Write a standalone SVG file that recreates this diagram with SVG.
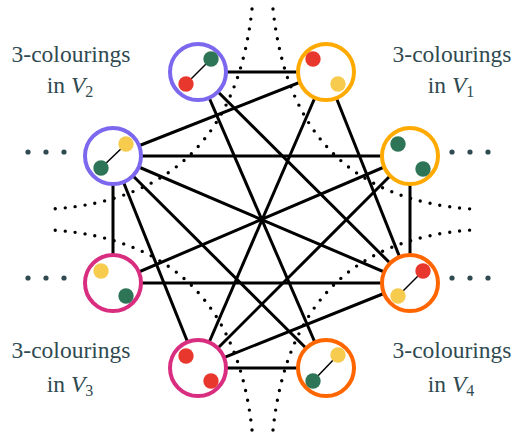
<svg xmlns="http://www.w3.org/2000/svg" width="521" height="432" viewBox="0 0 521 432">
<style>
.edge{stroke:#000;stroke-width:3;fill:none}
.dotted{stroke:#000;stroke-width:3.4;fill:none;stroke-dasharray:0 10;stroke-linecap:round}
.ring{fill:#fff;stroke-width:4}
.link{stroke:#000;stroke-width:1.5}
.lbl{font-family:"Liberation Serif","DejaVu Serif",serif;font-size:23.5px;fill:#2f4a50;text-anchor:middle}
.sub{font-size:16px}
.ell{fill:#2f4a50}
</style>
<rect width="521" height="432" fill="#fff"/>
<g id="dotted-curves">
<path class="dotted" d="M252,9 Q232,197 52,209"/>
<path class="dotted" d="M273,9 Q293,197 472,209"/>
<path class="dotted" d="M252,430 Q232,242 52,230"/>
<path class="dotted" d="M273,430 Q293,242 472,230"/>
</g>
<g id="connectors">
<line class="edge" x1="198" y1="72" x2="326" y2="72"/>
<line class="edge" x1="198" y1="72" x2="410" y2="283"/>
<line class="edge" x1="198" y1="72" x2="326" y2="368"/>
<line class="edge" x1="326" y1="72" x2="113" y2="156"/>
<line class="edge" x1="326" y1="72" x2="198" y2="368"/>
<line class="edge" x1="326" y1="72" x2="410" y2="283"/>
<line class="edge" x1="113" y1="156" x2="410" y2="156"/>
<line class="edge" x1="113" y1="156" x2="113" y2="283"/>
<line class="edge" x1="113" y1="156" x2="410" y2="283"/>
<line class="edge" x1="113" y1="156" x2="198" y2="368"/>
<line class="edge" x1="113" y1="156" x2="326" y2="368"/>
<line class="edge" x1="410" y1="156" x2="113" y2="283"/>
<line class="edge" x1="410" y1="156" x2="410" y2="283"/>
<line class="edge" x1="410" y1="156" x2="198" y2="368"/>
<line class="edge" x1="113" y1="283" x2="410" y2="283"/>
<line class="edge" x1="410" y1="283" x2="198" y2="368"/>
<line class="edge" x1="198" y1="368" x2="326" y2="368"/>
</g>
<g id="nodeA">
<circle class="ring" cx="198" cy="72" r="28" stroke="#7b68ee"/>
<line class="link" x1="211" y1="59" x2="186" y2="84"/>
<circle cx="211" cy="59" r="7.7" fill="#2e7456"/>
<circle cx="186" cy="84" r="7.7" fill="#e8382e"/>
</g>
<g id="nodeB">
<circle class="ring" cx="326" cy="72" r="28" stroke="#ffaa00"/>
<circle cx="313" cy="59" r="7.7" fill="#e8382e"/>
<circle cx="338" cy="84" r="7.7" fill="#f7cb4d"/>
</g>
<g id="nodeC">
<circle class="ring" cx="113" cy="156" r="28" stroke="#7b68ee"/>
<line class="link" x1="126" y1="144" x2="101" y2="168"/>
<circle cx="126" cy="144" r="7.7" fill="#f7cb4d"/>
<circle cx="101" cy="168" r="7.7" fill="#2e7456"/>
</g>
<g id="nodeD">
<circle class="ring" cx="410" cy="156" r="28" stroke="#ffaa00"/>
<circle cx="398" cy="144" r="7.7" fill="#2e7456"/>
<circle cx="423" cy="169" r="7.7" fill="#2e7456"/>
</g>
<g id="nodeE">
<circle class="ring" cx="113" cy="283" r="28" stroke="#d92d80"/>
<circle cx="101" cy="271" r="7.7" fill="#f7cb4d"/>
<circle cx="126" cy="296" r="7.7" fill="#2e7456"/>
</g>
<g id="nodeF">
<circle class="ring" cx="410" cy="283" r="28" stroke="#ff6600"/>
<line class="link" x1="423" y1="271" x2="398" y2="296"/>
<circle cx="423" cy="271" r="7.7" fill="#e8382e"/>
<circle cx="398" cy="296" r="7.7" fill="#f7cb4d"/>
</g>
<g id="nodeG">
<circle class="ring" cx="198" cy="368" r="28" stroke="#d92d80"/>
<circle cx="186" cy="356" r="7.7" fill="#e8382e"/>
<circle cx="211" cy="381" r="7.7" fill="#e8382e"/>
</g>
<g id="nodeH">
<circle class="ring" cx="326" cy="368" r="28" stroke="#ff6600"/>
<line class="link" x1="338" y1="355" x2="313" y2="381"/>
<circle cx="338" cy="355" r="7.7" fill="#f7cb4d"/>
<circle cx="313" cy="381" r="7.7" fill="#2e7456"/>
</g>
<g id="ellipses">
<circle class="ell" cx="28" cy="152" r="2.6"/><circle class="ell" cx="46" cy="152" r="2.6"/><circle class="ell" cx="64" cy="152" r="2.6"/>
<circle class="ell" cx="28" cy="278" r="2.6"/><circle class="ell" cx="46" cy="278" r="2.6"/><circle class="ell" cx="64" cy="278" r="2.6"/>
<circle class="ell" cx="452" cy="152" r="2.6"/><circle class="ell" cx="470" cy="152" r="2.6"/><circle class="ell" cx="488" cy="152" r="2.6"/>
<circle class="ell" cx="452" cy="278" r="2.6"/><circle class="ell" cx="470" cy="278" r="2.6"/><circle class="ell" cx="488" cy="278" r="2.6"/>
</g>
<g id="labels">
<text class="lbl" x="71" y="62">3-colourings</text>
<text class="lbl" x="70" y="93">in <tspan font-style="italic">V</tspan><tspan class="sub" dy="4">2</tspan></text>
<text class="lbl" x="452" y="62">3-colourings</text>
<text class="lbl" x="451" y="93">in <tspan font-style="italic">V</tspan><tspan class="sub" dy="4">1</tspan></text>
<text class="lbl" x="71" y="358">3-colourings</text>
<text class="lbl" x="70" y="392">in <tspan font-style="italic">V</tspan><tspan class="sub" dy="4">3</tspan></text>
<text class="lbl" x="452" y="358">3-colourings</text>
<text class="lbl" x="451" y="392">in <tspan font-style="italic">V</tspan><tspan class="sub" dy="4">4</tspan></text>
</g>
</svg>
